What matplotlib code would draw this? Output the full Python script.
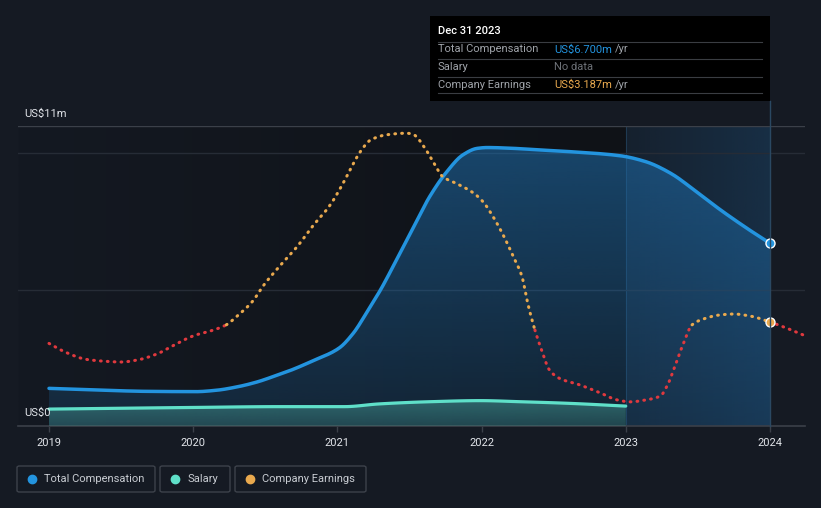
import numpy as np
import matplotlib
matplotlib.use("Agg")
import matplotlib.pyplot as plt
from matplotlib.patches import Rectangle, FancyBboxPatch
from matplotlib.lines import Line2D

plt.rcParams['font.family'] = ['Roboto', 'DejaVu Sans']

# ---------------- data (US$ millions) ----------------
comp_years = [2019.0, 2019.33, 2019.68, 2020.02, 2020.16, 2020.30, 2020.44, 2020.58, 2020.67,
              2020.83, 2021.01, 2021.11, 2021.20, 2021.30, 2021.41, 2021.53, 2021.64, 2021.76,
              2021.87, 2021.97, 2022.04, 2022.22, 2022.41, 2022.61, 2022.96, 2023.14, 2023.31,
              2023.49, 2023.65, 2023.84, 2024.0]
comp_values = [1.38, 1.32, 1.27, 1.26, 1.31, 1.43, 1.61, 1.86, 2.03,
               2.39, 2.85, 3.40, 4.13, 5.00, 6.09, 7.31, 8.41, 9.33,
               9.94, 10.18, 10.21, 10.18, 10.12, 10.06, 9.91, 9.69, 9.27,
               8.59, 7.95, 7.25, 6.70]

salary_years = [2019.0, 2020.0, 2020.6, 2021.05, 2021.29, 2021.64, 2021.99, 2022.27, 2022.61, 2023.0]
salary_values = [0.62, 0.68, 0.71, 0.71, 0.81, 0.89, 0.93, 0.89, 0.83, 0.73]

earn_years = [2019.0, 2019.12, 2019.26, 2019.40, 2019.50, 2019.61, 2019.75, 2019.86, 2020.00,
              2020.14, 2020.23, 2020.30, 2020.41, 2020.49, 2020.60, 2020.72, 2020.83, 2020.95,
              2021.04, 2021.10, 2021.16, 2021.23, 2021.34, 2021.48, 2021.53, 2021.60, 2021.67,
              2021.73, 2021.83, 2021.94, 2022.01, 2022.08, 2022.15, 2022.22, 2022.28, 2022.32,
              2022.37, 2022.42, 2022.47, 2022.54, 2022.68, 2022.82, 2022.94, 2023.03, 2023.14,
              2023.24, 2023.29, 2023.34, 2023.40, 2023.46, 2023.54, 2023.65, 2023.75, 2023.86,
              2024.00, 2024.12, 2024.23]
earn_values = [2.53, 2.25, 2.04, 1.98, 1.96, 2.02, 2.21, 2.46, 2.76,
               2.94, 3.10, 3.35, 3.81, 4.32, 4.90, 5.49, 6.13, 6.77,
               7.44, 7.95, 8.41, 8.76, 8.92, 8.97, 8.92, 8.56, 8.05,
               7.64, 7.42, 7.15, 6.87, 6.41, 5.85, 5.19, 4.58, 3.76,
               2.94, 2.28, 1.72, 1.46, 1.26, 1.02, 0.80, 0.74, 0.80,
               0.92, 1.26, 1.82, 2.53, 3.10, 3.28, 3.40, 3.43, 3.37,
               3.187, 2.99, 2.79]
# year boundaries where the earnings line changes colour
earn_breaks = [2020.23, 2022.37, 2023.46, 2024.00]
earn_seg_colors = ['#e0393e', '#e9a94e', '#e0393e', '#e9a94e', '#e0393e']

year_ticks = [2019, 2020, 2021, 2022, 2023, 2024]
y_max = 11.0
earn_axis_max = 9.19

BG = '#151a23'
BLUE = '#2394df'
TEAL = '#5fe0c9'
ORANGE = '#e9a94e'
FS = 8.0

W, H = 821, 508
fig = plt.figure(figsize=(W / 100, H / 100), dpi=100, facecolor=BG)


def fx(px):
    return px / W


def fy(py):
    return 1 - py / H


def smooth(xs, ys, n=12):
    """Monotone cubic (PCHIP) rendering of a polyline through the given points."""
    x = np.asarray(xs, float)
    y = np.asarray(ys, float)
    h = np.diff(x)
    d = np.diff(y) / h
    m = np.zeros_like(y)
    for k in range(1, len(x) - 1):
        if d[k - 1] * d[k] > 0:
            w1 = 2 * h[k] + h[k - 1]
            w2 = h[k] + 2 * h[k - 1]
            m[k] = (w1 + w2) / (w1 / d[k - 1] + w2 / d[k])
    m[0] = d[0]
    m[-1] = d[-1]
    ox, oy = [], []
    for k in range(len(x) - 1):
        t = np.linspace(0, 1, n, endpoint=False)
        h00 = 2 * t**3 - 3 * t**2 + 1
        h10 = t**3 - 2 * t**2 + t
        h01 = -2 * t**3 + 3 * t**2
        h11 = t**3 - t**2
        ox.extend(x[k] + t * h[k])
        oy.extend(h00 * y[k] + h10 * h[k] * m[k] + h01 * y[k + 1] + h11 * h[k] * m[k + 1])
    ox.append(x[-1])
    oy.append(y[-1])
    return np.array(ox), np.array(oy)


# axes occupy x 18..805, y 126..426 (pixels)
ax = fig.add_axes([fx(18), fy(426), (805 - 18) / W, (426 - 126) / H])
ax.set_facecolor(BG)
x0, x1 = 2018.785, 2024.243

# darker background up to 2023 (horizontal gradient)
grad = np.linspace(0, 1, 256)[None, :, None]
c_left = np.array(matplotlib.colors.to_rgb('#141922'))
c_right = np.array(matplotlib.colors.to_rgb('#0f1217'))
img = c_left * (1 - grad) + c_right * grad
ax.imshow(img, extent=[x0, 2023.0, 0, y_max], aspect='auto', zorder=0, origin='lower')
band = np.zeros((1, 256, 4))
band[..., :3] = matplotlib.colors.to_rgb('#1d5f95')
band[..., 3] = np.linspace(0.10, 0.30, 256)
ax.imshow(band, extent=[2023.0, 2024.0, 0, y_max], aspect='auto', zorder=0.5, origin='lower')
ax.axvline(2023.0, color='#1f3a52', lw=0.8, zorder=0.6)

ax.axhline(y_max, color='#3b4049', lw=1.0, zorder=1)
for g in [5, 10]:
    ax.axhline(g, color='#262c36', lw=1.0, zorder=1)


def grad_fill(xs, ys, rgb, a_top, a_bot, z):
    poly = ax.fill_between(xs, ys, 0, facecolor='none', edgecolor='none', zorder=z)
    path = poly.get_paths()[0]
    arr = np.zeros((256, 1, 4))
    arr[..., :3] = matplotlib.colors.to_rgb(rgb)
    arr[..., 3] = np.linspace(a_bot, a_top, 256)[:, None]
    top = max(ys)
    im = ax.imshow(arr, extent=[min(xs), max(xs), 0, top], origin='lower', aspect='auto', zorder=z)
    im.set_clip_path(path, transform=ax.transData)


cx, cy = smooth(comp_years, comp_values)
sx, sy = smooth(salary_years, salary_values)
grad_fill(cx, cy, '#1f6fae', 0.55, 0.18, 2)
grad_fill(sx, sy, '#4fb3a8', 0.45, 0.25, 3)

ax.plot(cx, cy, color=BLUE, lw=2.5, zorder=4, solid_capstyle='round')
ax.plot(sx, sy, color=TEAL, lw=2.3, zorder=4, solid_capstyle='round')
ax.plot([2024.0], [comp_values[-1]], 'o', ms=6.5, mfc=BLUE, mec='white', mew=1.0, zorder=6)

ax.set_xlim(x0, x1)
ax.set_ylim(0, y_max)

# earnings on its own scale
ax2 = ax.twinx()
ax2.set_ylim(0, earn_axis_max)
ax2.axis('off')
ex, ev = smooth(earn_years, earn_values, n=8)
bounds = [ex[0]] + earn_breaks + [ex[-1]]
for i in range(len(bounds) - 1):
    msk = (ex >= bounds[i] - 1e-9) & (ex <= bounds[i + 1] + 1e-9)
    ax2.plot(ex[msk], ev[msk], color=earn_seg_colors[i], lw=2.2, linestyle=(0, (0.25, 2.0)),
             dash_capstyle='round', zorder=5)
ax2.plot([2024.0], [3.187], 'o', ms=6.5, mfc=ORANGE, mec='white', mew=1.0, zorder=6)
ax2.set_xlim(x0, x1)

for s in ['top', 'right', 'left']:
    ax.spines[s].set_visible(False)
ax.spines['bottom'].set_color('#3b4049')
ax.spines['bottom'].set_linewidth(1.2)
ax.set_yticks([])
ax.set_xticks(year_ticks)
ax.set_xticklabels([str(y) for y in year_ticks])
ax.tick_params(axis='x', colors='#3b4049', length=4, width=1, labelcolor='#e2e5ea',
               labelsize=FS, pad=5)

fig.text(fx(24), fy(114), 'US$11m', color='#e2e5ea', fontsize=FS, va='center', ha='left')
fig.text(fx(24), fy(413), 'US$0', color='#e2e5ea', fontsize=FS, va='center', ha='left')

fig.add_artist(Line2D([fx(770), fx(770)], [fy(101), fy(426)], color='#2a4862', lw=1.0, zorder=1))

# tooltip
fig.add_artist(Rectangle((fx(430), fy(101)), (770 - 430) / W, (101 - 16) / H,
                         transform=fig.transFigure, facecolor='#000000', edgecolor='none', zorder=10))
fig.text(fx(438), fy(31), 'Dec 31 2023', color='#ffffff', fontsize=FS, va='center', ha='left',
         zorder=11, fontweight='medium')
for ly in [41.5, 58.5, 76.5, 93]:
    fig.add_artist(Line2D([fx(438), fx(762)], [fy(ly), fy(ly)], color='#3a3d42', lw=0.8, zorder=11))
rows = [('Total Compensation', 'US$6.700m', BLUE, True, 49.5),
        ('Salary', 'No data', '#6d7177', False, 66.5),
        ('Company Earnings', 'US$3.187m', ORANGE, True, 84.5)]
for lab, val, col, yr, ry in rows:
    fig.text(fx(438), fy(ry), lab, color='#9fa3a9', fontsize=FS, va='center', ha='left', zorder=11)
    fig.text(fx(554), fy(ry), val, color=col, fontsize=FS, va='center', ha='left', zorder=11)
    if yr:
        fig.text(fx(615), fy(ry), '/yr', color='#9fa3a9', fontsize=FS, va='center', ha='left',
                 zorder=11)

# legend
legend_items = [('Total Compensation', BLUE, 17, 155), ('Salary', TEAL, 160, 230),
                ('Company Earnings', ORANGE, 235, 366)]
for lab, col, lx0, lx1 in legend_items:
    fig.add_artist(FancyBboxPatch((fx(lx0), fy(492)), (lx1 - lx0) / W, (492 - 466) / H,
                                  boxstyle='round,pad=0,rounding_size=0.003',
                                  transform=fig.transFigure, facecolor=BG, edgecolor='#3d424b',
                                  lw=1.0))
    fig.add_artist(Line2D([fx(lx0 + 15)], [fy(479)], marker='o', ms=6, color=col, mec=col, lw=0))
    fig.text(fx(lx0 + 27), fy(479), lab, color='#c8ccd2', fontsize=FS, va='center', ha='left')

fig.savefig('out.png', dpi=100, facecolor=BG)
